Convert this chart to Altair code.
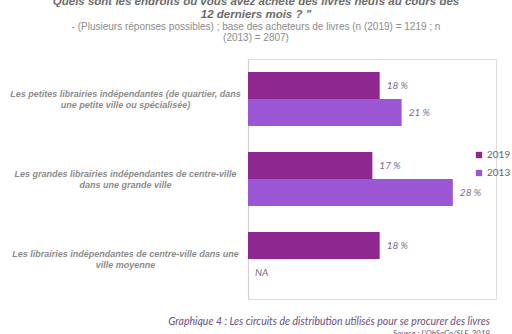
import altair as alt
import pandas as pd

categories = [
    "Les petites librairies indépendantes (de quartier, dans|une petite ville ou spécialisée)",
    "Les grandes librairies indépendantes de centre-ville|dans une grande ville",
    "Les librairies indépendantes de centre-ville dans une|ville moyenne",
]
years = ["2019", "2013"]
values_2019 = [18, 17, 18]
values_2013 = [21, 28, None]

rows = []
for i, c in enumerate(categories):
    rows.append({"cat": c, "year": "2019", "value": values_2019[i]})
    rows.append({"cat": c, "year": "2013", "value": values_2013[i]})
df = pd.DataFrame(rows)

caption_df = pd.DataFrame({"t": ["Graphique 4 : Les circuits de distribution utilisés pour se procurer des livres"]})
source_df = pd.DataFrame({"t": ["Source : L'ObSoCo/SLF, 2019"]})

colors = ["#8E278F", "#9B57D3"]

base = alt.Chart(df)

y_axis = alt.Axis(
    title=None,
    labelExpr="split(datum.label, '|')",
    labelAlign="center",
    labelPadding=123,
    labelLimit=0,
    labelFont="Liberation Sans",
    labelFontSize=9,
    labelFontStyle="italic",
    labelFontWeight="bold",
    labelColor="#8c8c8c",
    labelLineHeight=11,
    labelOffset=-5.5,
    ticks=False,
    domain=False,
    grid=False,
)
y_scale = alt.Scale(paddingInner=0.325, paddingOuter=0.1625)
x_scale = alt.Scale(domain=[0, 33.9])
yoff = alt.YOffset("year:N", sort=years, scale=alt.Scale(paddingInner=0, paddingOuter=0))

bars = base.mark_bar().encode(
    y=alt.Y("cat:N", sort=categories, scale=y_scale, axis=y_axis),
    yOffset=yoff,
    x=alt.X("value:Q", scale=x_scale, axis=None),
    color=alt.Color(
        "year:N",
        sort=years,
        scale=alt.Scale(domain=years, range=colors),
        legend=alt.Legend(
            orient="none",
            legendX=226,
            legendY=91,
            title=None,
            symbolType="square",
            symbolSize=40,
            symbolStrokeWidth=0,
            labelFont="Lato",
            labelFontSize=10,
            labelColor="#666666",
            rowPadding=8,
            labelOffset=3,
        ),
    ),
)

labels = base.transform_calculate(
    xpos="isValid(datum.value) ? datum.value : 0",
    lab="isValid(datum.value) ? datum.value + ' %' : 'NA'",
).mark_text(
    align="left", baseline="middle", dx=7, font="Lato", fontStyle="italic",
    fontSize=10, color="#7d6a8a",
).encode(
    y=alt.Y("cat:N", sort=categories, scale=y_scale, axis=y_axis),
    yOffset=yoff,
    x=alt.X("xpos:Q", scale=x_scale, axis=None),
    text="lab:N",
)

axis_line = alt.Chart(caption_df).mark_rule(color="#d0d0d0", strokeWidth=1.2).encode(
    x=alt.value(0.5), y=alt.value(0), y2=alt.value(240)
)

caption = alt.Chart(caption_df).mark_text(
    align="right", baseline="middle", font="Lato", fontStyle="italic",
    fontSize=10.5, color="#6e4f7a",
).encode(x=alt.value(242), y=alt.value(263), text="t:N")

source = alt.Chart(source_df).mark_text(
    align="right", baseline="middle", font="Lato", fontStyle="italic",
    fontSize=8, color="#6e4f7a",
).encode(x=alt.value(242), y=alt.value(275), text="t:N")

chart = alt.layer(axis_line, bars, labels, caption, source).properties(
    width=248,
    height=240,
    autosize=alt.AutoSizeParams(type="none"),
    padding={"left": 248, "top": 59, "right": 16, "bottom": 35},
    title=alt.TitleParams(
        text=["Quels sont les endroits où vous avez acheté des livres neufs au cours des", "12 derniers mois ? \""],
        subtitle=["- (Plusieurs réponses possibles) ; base des acheteurs de livres (n (2019) = 1219 ; n", "(2013) = 2807)"],
        anchor="middle",
        dx=-116,
        offset=15,
        font="Liberation Sans",
        fontSize=11.5,
        fontStyle="italic",
        fontWeight="bold",
        color="#6b6b6b",
        lineHeight=13,
        subtitleFont="Liberation Sans",
        subtitleFontSize=10,
        subtitleColor="#8c8c8c",
        subtitleLineHeight=11,
        subtitlePadding=2,
    ),
).configure_view(
    strokeWidth=0, stroke="transparent", fill="white"
).configure_axis(
    domain=False, grid=False, ticks=False
).configure(background="white")

chart.save("out.html", embed_options={"renderer": "svg", "actions": False})
